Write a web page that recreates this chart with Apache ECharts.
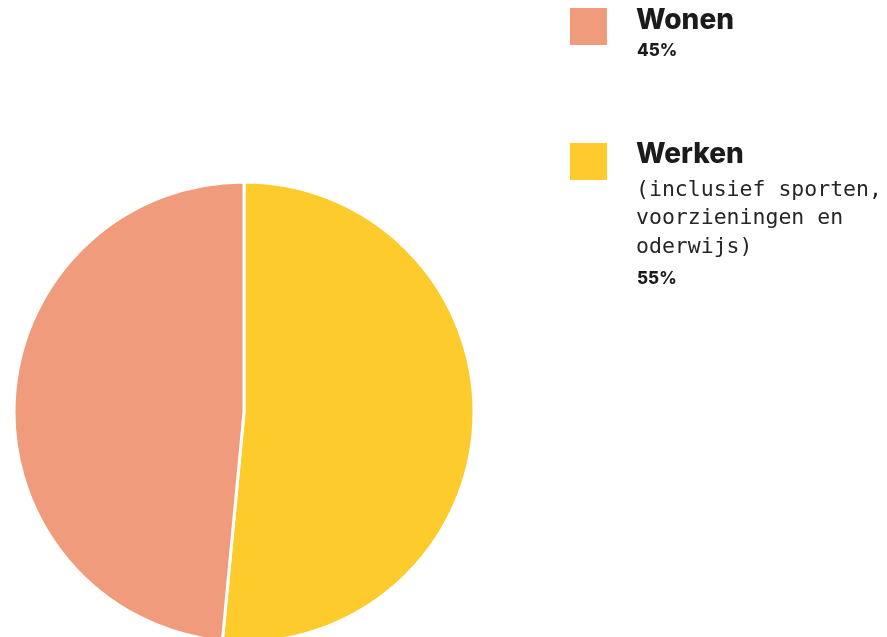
<!DOCTYPE html>
<html><head><meta charset="utf-8">
<script src="https://cdn.jsdelivr.net/npm/echarts@6/dist/echarts.min.js"></script>
<style>html,body{margin:0;padding:0;background:#fff}#c{width:887px;height:637px}</style>
</head><body><div id="c"></div>
<script>
// Data
var categories = ['Werken', 'Wonen'];
var sliceValues = [51.5, 48.5];          // slice sizes as drawn in the picture
var legendNames = ['Wonen', 'Werken'];
var legendSubtitles = ['', '(inclusief sporten,\nvoorzieningen en\noderwijs)'];
var legendPercents = ['45%', '55%'];
var colors = {Wonen: '#F09B7C', Werken: '#FDCB2C'};

var chart = echarts.init(document.getElementById('c'), null, {renderer: 'canvas'});

var graphics = [];
var tops = [8, 143];
legendNames.forEach(function (n, i) {
  var y0 = tops[i];
  graphics.push({type: 'rect', left: 570, top: y0, shape: {width: 37, height: 37}, style: {fill: colors[n]}});
  graphics.push({type: 'text', x: 636, y: y0 + (i === 0 ? 13 : 12), style: {text: n, fontFamily: 'Inter', fontWeight: 800, fontSize: 28, fill: '#1b1b1b', verticalAlign: 'middle'}});
  var py = y0 + 43;
  if (legendSubtitles[i]) {
    var lines = legendSubtitles[i].split('\n');
    lines.forEach(function (l, k) {
      graphics.push({type: 'text', x: 636, y: y0 + 47 + k * 28.5, style: {text: l, fontFamily: 'DejaVu Sans Mono', fontWeight: 400, fontSize: 21.5, fill: '#262626', verticalAlign: 'middle'}});
    });
    py = y0 + 47 + lines.length * 28.5 + 3;
  }
  graphics.push({type: 'text', x: 637, y: py, style: {text: legendPercents[i], fontFamily: 'Inter', fontWeight: 800, fontSize: 17, fill: '#1b1b1b', verticalAlign: 'middle'}});
});

chart.setOption({
  animation: false,
  backgroundColor: '#fff',
  series: [{
    type: 'pie',
    center: [244, 412],
    radius: [0, 230],
    startAngle: 90,
    clockwise: true,
    label: {show: false},
    labelLine: {show: false},
    emphasis: {disabled: true},
    itemStyle: {borderColor: '#fff', borderWidth: 3},
    data: categories.map(function (c, i) {
      return {name: c, value: sliceValues[i], itemStyle: {color: colors[c]}};
    })
  }],
  graphic: graphics
});
</script></body></html>
